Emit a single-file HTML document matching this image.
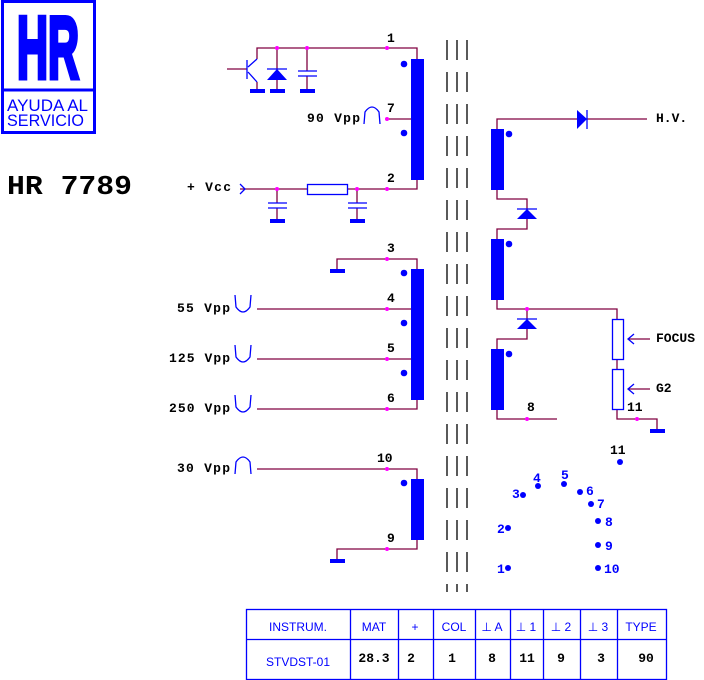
<!DOCTYPE html>
<html><head><meta charset="utf-8"><style>
html,body{margin:0;padding:0;background:#fff;}
svg{display:block;}
.m{font-family:"Liberation Mono",monospace;font-weight:bold;fill:#000;}
.s{font-family:"Liberation Sans",sans-serif;fill:#0000ff;}
</style></head><body>
<svg width="704" height="680" viewBox="0 0 704 680" xmlns="http://www.w3.org/2000/svg">
<!-- logo -->
<rect x="2.5" y="1.5" width="92" height="131" fill="none" stroke="#0000ff" stroke-width="3"/>
<line x1="2" y1="90" x2="95" y2="90" stroke="#0000ff" stroke-width="3"/>
<text x="48" y="78" text-anchor="middle" style="font-family:'Liberation Sans',sans-serif;font-weight:bold;font-size:88px;fill:#0000ff;stroke:#0000ff;stroke-width:5" textLength="62" lengthAdjust="spacingAndGlyphs">HR</text>
<text x="7" y="111" class="s" style="font-size:17px" textLength="81" lengthAdjust="spacingAndGlyphs">AYUDA AL</text>
<text x="7" y="126" class="s" style="font-size:17px" textLength="77" lengthAdjust="spacingAndGlyphs">SERVICIO</text>
<text x="7" y="194" class="m" style="font-size:27px" textLength="125" lengthAdjust="spacingAndGlyphs">HR 7789</text>

<g stroke="#800040" stroke-width="1.3" fill="none">
<polyline points="257,59 257,48 417,48 417,59"/>
<line x1="387" y1="119" x2="417" y2="119"/>
<polyline points="240,189 417,189 417,179"/>
<line x1="227" y1="69" x2="247" y2="69"/>
<line x1="257" y1="82" x2="257" y2="91"/>
<line x1="277" y1="48" x2="277" y2="91"/>
<line x1="307" y1="48" x2="307" y2="71"/>
<line x1="307" y1="76" x2="307" y2="91"/>
<line x1="277" y1="189" x2="277" y2="203"/>
<line x1="277" y1="208" x2="277" y2="219"/>
<line x1="357" y1="189" x2="357" y2="203"/>
<line x1="357" y1="208" x2="357" y2="219"/>
<polyline points="337,269 337,259 417,259 417,269"/>
<line x1="257" y1="309" x2="417" y2="309"/>
<line x1="257" y1="359" x2="417" y2="359"/>
<polyline points="257,409 417,409 417,399"/>
<polyline points="257,469 417,469 417,479"/>
<polyline points="337,559 337,549 417,549 417,539"/>
<polyline points="497,129 497,119 647,119"/>
<polyline points="497,189 497,199 527,199 527,229 497,229 497,239"/>
<polyline points="497,299 497,309 617,309 617,319"/>
<polyline points="527,309 527,339 497,339 497,349"/>
<polyline points="497,409 497,419 557,419"/>
<line x1="617" y1="359" x2="617" y2="369"/>
<polyline points="617,409 617,419 657,419 657,429"/>
</g>

<g fill="#0000ff" stroke="none">
<rect x="411" y="59" width="13" height="121"/>
<rect x="411" y="269" width="13" height="131"/>
<rect x="411" y="479" width="13" height="61"/>
<rect x="491" y="129" width="13" height="61"/>
<rect x="491" y="239" width="13" height="61"/>
<rect x="491" y="349" width="13" height="61"/>
<circle cx="404" cy="64" r="3.3"/><circle cx="404" cy="133" r="3.3"/>
<circle cx="404" cy="273" r="3.3"/><circle cx="404" cy="323" r="3.3"/><circle cx="404" cy="373" r="3.3"/>
<circle cx="404" cy="483" r="3.3"/>
<circle cx="509" cy="134" r="3.3"/><circle cx="509" cy="244" r="3.3"/><circle cx="509" cy="354" r="3.3"/>
<rect x="250" y="89" width="15" height="4"/><rect x="270" y="89" width="15" height="4"/><rect x="300" y="89" width="15" height="4"/>
<rect x="270" y="219" width="15" height="4"/><rect x="350" y="219" width="15" height="4"/>
<rect x="330" y="269" width="15" height="4"/><rect x="330" y="559" width="15" height="4"/>
<rect x="650" y="429" width="15" height="4"/>
<polygon points="267,80 287,80 277,69"/>
<polygon points="517,219 537,219 527,209"/>
<polygon points="517,329 537,329 527,319"/>
<polygon points="577,110 577,129 587,119"/>
</g>
<g stroke="#0000ff" stroke-width="1.3" fill="none">
<line x1="267" y1="69" x2="287" y2="69"/>
<line x1="517" y1="209" x2="537" y2="209"/>
<line x1="517" y1="319" x2="537" y2="319"/>
<line x1="587" y1="110" x2="587" y2="129"/>
<line x1="247" y1="60" x2="247" y2="79"/>
<polyline points="248,67 257,59"/>
<polyline points="248,72 257,82"/>
<line x1="298" y1="71" x2="317" y2="71"/><line x1="298" y1="76" x2="317" y2="76"/>
<line x1="268" y1="203" x2="287" y2="203"/><line x1="268" y1="208" x2="287" y2="208"/>
<line x1="348" y1="203" x2="367" y2="203"/><line x1="348" y1="208" x2="367" y2="208"/>
<rect x="307.5" y="184.5" width="40" height="10" fill="#fff"/>
<rect x="612.5" y="319.5" width="11" height="40"/>
<rect x="612.5" y="369.5" width="11" height="40"/>
<line x1="628" y1="339" x2="650" y2="339" stroke="#800040"/>
<polyline points="634,334 628,339 634,344"/>
<line x1="628" y1="389" x2="650" y2="389" stroke="#800040"/>
<polyline points="634,384 628,389 634,394"/>
<polyline points="240,184 245,189 240,194"/>
<path d="M364,124 L365,112 Q372,102 379,112 L380,124"/>
<path d="M235,474 L236,462 Q243,452 250,462 L251,474"/>
<path d="M235,295 L236,307 Q243,317 250,307 L251,295"/>
<path d="M235,345 L236,357 Q243,367 250,357 L251,345"/>
<path d="M235,395 L236,407 Q243,417 250,407 L251,395"/>
</g>
<g fill="#ff00ff">
<circle cx="277" cy="48" r="2"/><circle cx="307" cy="48" r="2"/><circle cx="387" cy="48" r="2"/>
<circle cx="387" cy="119" r="2"/>
<circle cx="277" cy="189" r="2"/><circle cx="357" cy="189" r="2"/><circle cx="387" cy="189" r="2"/>
<circle cx="387" cy="259" r="2"/><circle cx="387" cy="309" r="2"/><circle cx="387" cy="359" r="2"/><circle cx="387" cy="409" r="2"/>
<circle cx="387" cy="469" r="2"/><circle cx="387" cy="549" r="2"/>
<circle cx="527" cy="309" r="2"/><circle cx="527" cy="419" r="2"/><circle cx="637" cy="419" r="2"/>
</g>
<g stroke="#000" stroke-width="1.3" stroke-dasharray="20,12">
<line x1="447" y1="40" x2="447" y2="592"/>
<line x1="457" y1="40" x2="457" y2="592"/>
<line x1="467" y1="40" x2="467" y2="592"/>
</g>
<g class="m" style="font-size:13px">
<text x="387" y="42">1</text>
<text x="387" y="112">7</text>
<text x="387" y="182">2</text>
<text x="387" y="252">3</text>
<text x="387" y="302">4</text>
<text x="387" y="352">5</text>
<text x="387" y="402">6</text>
<text x="377" y="462">10</text>
<text x="387" y="542">9</text>
<text x="307" y="122" textLength="53" lengthAdjust="spacing">90 Vpp</text>
<text x="187" y="191" textLength="44" lengthAdjust="spacing">+ Vcc</text>
<text x="177" y="312" textLength="53" lengthAdjust="spacing">55 Vpp</text>
<text x="169" y="362" textLength="61" lengthAdjust="spacing">125 Vpp</text>
<text x="169" y="412" textLength="61" lengthAdjust="spacing">250 Vpp</text>
<text x="177" y="472" textLength="53" lengthAdjust="spacing">30 Vpp</text>
<text x="656" y="122">H.V.</text>
<text x="656" y="342">FOCUS</text>
<text x="656" y="392">G2</text>
<text x="627" y="411">11</text>
<text x="527" y="411">8</text>
<text x="610" y="454">11</text>
</g>
<g fill="#0000ff">
<circle cx="620" cy="462" r="3"/><circle cx="538" cy="486" r="3"/><circle cx="564" cy="484" r="3"/>
<circle cx="523" cy="495" r="3"/><circle cx="580" cy="492" r="3"/><circle cx="591" cy="504" r="3"/>
<circle cx="598" cy="521" r="3"/><circle cx="508" cy="528" r="3"/><circle cx="598" cy="545" r="3"/>
<circle cx="508" cy="568" r="3"/><circle cx="598" cy="568" r="3"/>
</g>
<g class="m" style="font-size:13px;fill:#0000ff">
<text x="533" y="482">4</text><text x="561" y="479">5</text><text x="512" y="498">3</text>
<text x="586" y="495">6</text><text x="597" y="508">7</text><text x="605" y="526">8</text>
<text x="497" y="533">2</text><text x="605" y="550">9</text><text x="497" y="573">1</text>
<text x="604" y="573">10</text>
</g>
<g stroke="#0000ff" stroke-width="1.3" fill="none">
<rect x="246.5" y="609.5" width="420" height="70"/>
<line x1="246" y1="639.5" x2="666" y2="639.5"/>
<line x1="350.5" y1="609" x2="350.5" y2="680"/>
<line x1="398.5" y1="609" x2="398.5" y2="680"/>
<line x1="433.5" y1="609" x2="433.5" y2="680"/>
<line x1="475.5" y1="609" x2="475.5" y2="680"/>
<line x1="510.5" y1="609" x2="510.5" y2="680"/>
<line x1="543.5" y1="609" x2="543.5" y2="680"/>
<line x1="580.5" y1="609" x2="580.5" y2="680"/>
<line x1="617.5" y1="609" x2="617.5" y2="680"/>
</g>
<g class="s" style="font-size:12px" text-anchor="middle">
<text x="298" y="631">INSTRUM.</text>
<text x="374" y="631">MAT</text>
<text x="415" y="631">+</text>
<text x="454" y="631">COL</text>
<text x="492" y="631">⊥ A</text>
<text x="526" y="631">⊥ 1</text>
<text x="561" y="631">⊥ 2</text>
<text x="598" y="631">⊥ 3</text>
<text x="641" y="631">TYPE</text>
<text x="298" y="666">STVDST-01</text>
</g>
<g class="m" style="font-size:13px" text-anchor="middle">
<text x="374" y="662">28.3</text>
<text x="411" y="662">2</text>
<text x="452" y="662">1</text>
<text x="492" y="662">8</text>
<text x="527" y="662">11</text>
<text x="561" y="662">9</text>
<text x="601" y="662">3</text>
<text x="646" y="662">90</text>
</g>
</svg>
</body></html>
